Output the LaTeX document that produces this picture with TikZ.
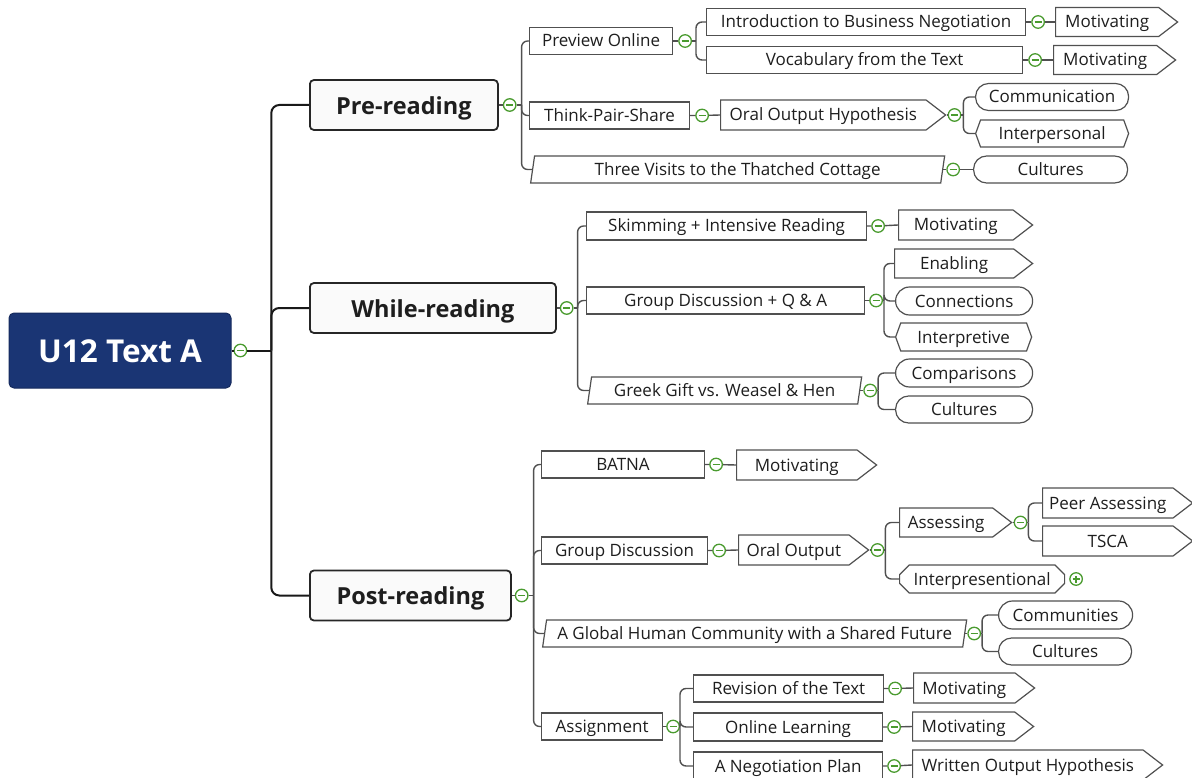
\documentclass[tikz,border=0pt]{standalone}
\usepackage{fontspec}
\setmainfont{Open Sans}
\usetikzlibrary{shapes.geometric}
\usetikzlibrary{shapes.symbols}
\usetikzlibrary{shapes.misc}
\usetikzlibrary{positioning}
\definecolor{rootblue}{HTML}{1A3574}
\definecolor{foldgreen}{HTML}{4A9B2F}
\definecolor{linegray}{HTML}{505050}
\definecolor{textdark}{HTML}{1E1E1E}

\begin{document}
\begin{tikzpicture}[x=1pt, y=-1pt,
    every node/.style={text=textdark, font=\fontsize{17}{20}\selectfont, text height=12.5pt, text depth=0.5pt, inner sep=2pt},
    root/.style={rectangle, rounded corners=5pt, fill=rootblue, draw=rootblue!80!black, line width=1pt, text=white, font=\bfseries\fontsize{31.5}{36}\selectfont, text height=23.5pt, text depth=0.5pt, minimum width=222pt, minimum height=75pt},
    stage/.style={rectangle, rounded corners=4pt, fill=black!2, draw=black!85, line width=1.8pt, font=\bfseries\fontsize{23.5}{28}\selectfont, text height=19pt, text depth=0.5pt, minimum height=50pt, anchor=west},
    topic/.style={rectangle, fill=white, draw=linegray, line width=1.2pt, minimum height=27pt, anchor=west},
    aim/.style={signal, signal to=east, signal pointer angle=75, fill=white, draw=linegray, line width=1.2pt, minimum height=29pt, anchor=west},
    goal/.style={rectangle, rounded corners=13pt, fill=white, draw=linegray, line width=1.2pt, minimum height=27pt, anchor=west},
    mode/.style={signal, signal to=west and east, signal pointer angle=140, fill=white, draw=linegray, line width=1.2pt, minimum height=27pt, anchor=west},
    quote/.style={trapezium, trapezium left angle=77, trapezium right angle=103, trapezium stretches body, fill=white, draw=linegray, line width=1.2pt, minimum height=27pt, anchor=west},
    corner/.style={chamfered rectangle, chamfered rectangle xsep=6pt, fill=white, draw=linegray, line width=1.2pt, minimum height=28pt, anchor=west},
    fold/.style={circle, draw=foldgreen, line width=1.3pt, fill=white, minimum size=12.5pt, inner sep=0pt, text height=0pt, text depth=0pt,
        path picture={\draw[foldgreen, line width=1.3pt] ([xshift=-3.5pt]path picture bounding box.center) -- ([xshift=3.5pt]path picture bounding box.center);}},
    unfold/.style={fold, path picture={\draw[foldgreen, line width=1.3pt] ([xshift=-3.5pt]path picture bounding box.center) -- ([xshift=3.5pt]path picture bounding box.center) ([yshift=-3.5pt]path picture bounding box.center) -- ([yshift=3.5pt]path picture bounding box.center);}},
    link/.style={draw=linegray, line width=1.4pt, rounded corners=6pt},
    trunk/.style={draw=black!90, line width=2pt, rounded corners=8pt}]
    \useasboundingbox (0,0) rectangle (1192,778);

    % centre and stages
    \node[root] (u12) at (120,350.5) {U12 Text A};
    \node[fold, right=2pt of u12] (u12_fold) {};
    \coordinate (u12_j) at ([xshift=24pt]u12_fold.east);
    \node[stage, minimum width=188pt] (pre_reading) at (309,105) {Pre-reading};
    \node[stage, minimum width=246pt] (while_reading) at (309,308) {While-reading};
    \node[stage, minimum width=201pt] (post_reading) at (309,595.5) {Post-reading};
    \draw[trunk] (u12.east) -- (u12_fold);
    \draw[trunk] (u12_fold) -- (u12_j);
    \draw[trunk] (u12_j) |- (pre_reading.west);
    \draw[trunk] (u12_j) |- (while_reading.west);
    \draw[trunk] (u12_j) |- (post_reading.west);

    % pre-reading
    \node[fold, right=4pt of pre_reading] (pre_reading_fold) {};
    \coordinate (pre_reading_j) at ([xshift=5pt]pre_reading_fold.east);
    \node[topic, minimum width=143pt] (preview_online) at (529,41) {Preview Online};
    \node[topic, minimum width=160pt] (think_pair_share) at (529,115.5) {Think-Pair-Share};
    \node[quote, minimum width=414pt] (three_visits) at (532,169.5) {Three Visits to the Thatched Cottage};
    \draw[link] (pre_reading.east) -- (pre_reading_fold);
    \draw[link] (pre_reading_fold) -- (pre_reading_j);
    \draw[link] (pre_reading_j) |- (preview_online.west);
    \draw[link] (pre_reading_j) |- (think_pair_share.west);
    \draw[link] (pre_reading_j) |- (three_visits.west);

    \node[fold, right=5pt of preview_online] (preview_online_fold) {};
    \coordinate (preview_online_j) at ([xshift=4pt]preview_online_fold.east);
    \node[topic, minimum width=319pt] (intro_negotiation) at (706,22) {Introduction to Business Negotiation};
    \node[topic, minimum width=316pt] (vocabulary) at (706,60) {Vocabulary from the Text};
    \draw[link] (preview_online.east) -- (preview_online_fold);
    \draw[link] (preview_online_fold) -- (preview_online_j);
    \draw[link] (preview_online_j) |- (intro_negotiation.west);
    \draw[link] (preview_online_j) |- (vocabulary.west);
    \node[fold, right=5pt of intro_negotiation] (intro_negotiation_fold) {};
    \node[aim, minimum width=122pt] (motivating_a) at (1055,22) {Motivating};
    \draw[link] (intro_negotiation.east) -- (intro_negotiation_fold) -- (motivating_a.west);
    \node[fold, right=5pt of vocabulary] (vocabulary_fold) {};
    \node[aim, minimum width=122pt] (motivating_b) at (1053,60) {Motivating};
    \draw[link] (vocabulary.east) -- (vocabulary_fold) -- (motivating_b.west);

    \node[fold, right=5pt of think_pair_share] (think_pair_share_fold) {};
    \node[aim, minimum width=225pt, minimum height=30pt] (oral_hypothesis) at (720,115) {Oral Output Hypothesis};
    \draw[link] (think_pair_share.east) -- (think_pair_share_fold) -- (oral_hypothesis.west);
    \node[fold, right=1pt of oral_hypothesis] (oral_hypothesis_fold) {};
    \coordinate (oral_hypothesis_j) at ([xshift=2pt]oral_hypothesis_fold.east);
    \node[goal, minimum width=153pt] (communication) at (975,97) {Communication};
    \node[mode, minimum width=153pt] (interpersonal) at (975,133.5) {Interpersonal};
    \draw[link] (oral_hypothesis.east) -- (oral_hypothesis_fold);
    \draw[link] (oral_hypothesis_fold) -- (oral_hypothesis_j);
    \draw[link] (oral_hypothesis_j) |- (communication.west);
    \draw[link] (oral_hypothesis_j) |- (interpersonal.west);

    \node[fold, right=3pt of three_visits] (three_visits_fold) {};
    \node[goal, minimum width=154pt] (cultures_a) at (973,169.5) {Cultures};
    \draw[link] (three_visits.east) -- (three_visits_fold) -- (cultures_a.west);

    % while-reading
    \node[fold, right=3pt of while_reading] (while_reading_fold) {};
    \coordinate (while_reading_j) at ([xshift=4pt]while_reading_fold.east);
    \node[topic, minimum width=280pt, minimum height=28pt] (skimming) at (586,226) {Skimming + Intensive Reading};
    \node[topic, minimum width=278pt] (group_qa) at (586,300.5) {Group Discussion + Q \& A};
    \node[quote, minimum width=274pt] (greek_gift) at (589,390.5) {Greek Gift vs. Weasel \& Hen};
    \draw[link] (while_reading.east) -- (while_reading_fold);
    \draw[link] (while_reading_fold) -- (while_reading_j);
    \draw[link] (while_reading_j) |- (skimming.west);
    \draw[link] (while_reading_j) |- (group_qa.west);
    \draw[link] (while_reading_j) |- (greek_gift.west);

    \node[fold, right=4pt of skimming] (skimming_fold) {};
    \node[aim, minimum width=134pt, minimum height=30pt] (motivating_c) at (898,225) {Motivating};
    \draw[link] (skimming.east) -- (skimming_fold) -- (motivating_c.west);

    \node[fold, right=4pt of group_qa] (group_qa_fold) {};
    \coordinate (group_qa_j) at ([xshift=1pt]group_qa_fold.east);
    \node[aim, minimum width=138pt] (enabling) at (894,263.5) {Enabling};
    \node[goal, minimum width=137pt, minimum height=28pt, rounded corners=14pt] (connections) at (895,301) {Connections};
    \node[mode, minimum width=136pt, minimum height=28pt] (interpretive) at (895,337) {Interpretive};
    \draw[link] (group_qa.east) -- (group_qa_fold);
    \draw[link] (group_qa_fold) -- (group_qa_j);
    \draw[link] (group_qa_j) |- (enabling.west);
    \draw[link] (group_qa_j) |- (connections.west);
    \draw[link] (group_qa_j) |- (interpretive.west);

    \node[fold, right=3pt of greek_gift] (greek_gift_fold) {};
    \coordinate (greek_gift_j) at ([xshift=1pt]greek_gift_fold.east);
    \node[goal, minimum width=137pt, minimum height=28pt, rounded corners=14pt] (comparisons) at (895,373) {Comparisons};
    \node[goal, minimum width=137pt] (cultures_b) at (895,409.5) {Cultures};
    \draw[link] (greek_gift.east) -- (greek_gift_fold);
    \draw[link] (greek_gift_fold) -- (greek_gift_j);
    \draw[link] (greek_gift_j) |- (comparisons.west);
    \draw[link] (greek_gift_j) |- (cultures_b.west);

    % post-reading
    \node[fold, right=3pt of post_reading] (post_reading_fold) {};
    \coordinate (post_reading_j) at ([xshift=5pt]post_reading_fold.east);
    \node[topic, minimum width=163pt] (batna) at (541,464.5) {BATNA};
    \node[topic, minimum width=166pt] (group_discussion) at (541,550.5) {Group Discussion};
    \node[quote, minimum width=424pt] (global_community) at (544,633.5) {A Global Human Community with a Shared Future};
    \node[topic, minimum width=121pt] (assignment) at (541,726.5) {Assignment};
    \draw[link] (post_reading.east) -- (post_reading_fold);
    \draw[link] (post_reading_fold) -- (post_reading_j);
    \draw[link] (post_reading_j) |- (batna.west);
    \draw[link] (post_reading_j) |- (group_discussion.west);
    \draw[link] (post_reading_j) |- (global_community.west);
    \draw[link] (post_reading_j) |- (assignment.west);

    \node[fold, right=4pt of batna] (batna_fold) {};
    \node[aim, minimum width=140pt, minimum height=30pt] (motivating_d) at (736,465) {Motivating};
    \draw[link] (batna.east) -- (batna_fold) -- (motivating_d.west);

    \node[fold, right=4pt of group_discussion] (group_discussion_fold) {};
    \node[aim, minimum width=130pt, minimum height=30pt] (oral_output) at (738,550) {Oral Output};
    \draw[link] (group_discussion.east) -- (group_discussion_fold) -- (oral_output.west);
    \node[fold, right=1pt of oral_output] (oral_output_fold) {};
    \coordinate (oral_output_j) at ([xshift=1pt]oral_output_fold.east);
    \node[aim, minimum width=112pt] (assessing) at (899,522.5) {Assessing};
    \node[corner, minimum width=165pt] (interpresentional) at (899,579) {Interpresentional};
    \node[unfold, right=4pt of interpresentional] (interpresentional_fold) {};
    \draw[link] (oral_output.east) -- (oral_output_fold);
    \draw[link] (oral_output_fold) -- (oral_output_j);
    \draw[link] (oral_output_j) |- (assessing.west);
    \draw[link] (oral_output_j) |- (interpresentional.west);
    \node[fold, right=1pt of assessing] (assessing_fold) {};
    \coordinate (assessing_j) at ([xshift=1pt]assessing_fold.east);
    \node[aim, minimum width=150pt, minimum height=30pt] (peer_assessing) at (1042,503) {Peer Assessing};
    \node[aim, minimum width=150pt, minimum height=30pt] (tsca) at (1042,541) {TSCA};
    \draw[link] (assessing.east) -- (assessing_fold);
    \draw[link] (assessing_fold) -- (assessing_j);
    \draw[link] (assessing_j) |- (peer_assessing.west);
    \draw[link] (assessing_j) |- (tsca.west);

    \node[fold, right=2pt of global_community] (global_community_fold) {};
    \coordinate (global_community_j) at ([xshift=1pt]global_community_fold.east);
    \node[goal, minimum width=134pt, minimum height=28pt, rounded corners=14pt] (communities) at (998,615) {Communities};
    \node[goal, minimum width=133pt] (cultures_c) at (998,651.5) {Cultures};
    \draw[link] (global_community.east) -- (global_community_fold);
    \draw[link] (global_community_fold) -- (global_community_j);
    \draw[link] (global_community_j) |- (communities.west);
    \draw[link] (global_community_j) |- (cultures_c.west);

    \node[fold, right=3pt of assignment] (assignment_fold) {};
    \coordinate (assignment_j) at ([xshift=0pt]assignment_fold.east);
    \node[topic, minimum width=190pt] (revision) at (693,688.5) {Revision of the Text};
    \node[topic, minimum width=189pt, minimum height=28pt] (online_learning) at (693,727) {Online Learning};
    \node[topic, minimum width=189pt, minimum height=28pt] (negotiation_plan) at (693,766) {A Negotiation Plan};
    \draw[link] (assignment.east) -- (assignment_fold);
    \draw[link] (assignment_fold) -- (assignment_j);
    \draw[link] (assignment_j) |- (revision.west);
    \draw[link] (assignment_j) |- (online_learning.west);
    \draw[link] (assignment_j) |- (negotiation_plan.west);
    \node[fold, right=4pt of revision] (revision_fold) {};
    \node[aim, minimum width=121pt, minimum height=30pt] (motivating_e) at (913,688) {Motivating};
    \draw[link] (revision.east) -- (revision_fold) -- (motivating_e.west);
    \node[fold, right=4pt of online_learning] (online_learning_fold) {};
    \node[aim, minimum width=121pt] (motivating_f) at (912,726.5) {Motivating};
    \draw[link] (online_learning.east) -- (online_learning_fold) -- (motivating_f.west);
    \node[fold, right=4pt of negotiation_plan] (negotiation_plan_fold) {};
    \node[aim, minimum width=250pt, minimum height=30pt] (written_hypothesis) at (912,765) {Written Output Hypothesis};
    \draw[link] (negotiation_plan.east) -- (negotiation_plan_fold) -- (written_hypothesis.west);
\end{tikzpicture}
\end{document}
